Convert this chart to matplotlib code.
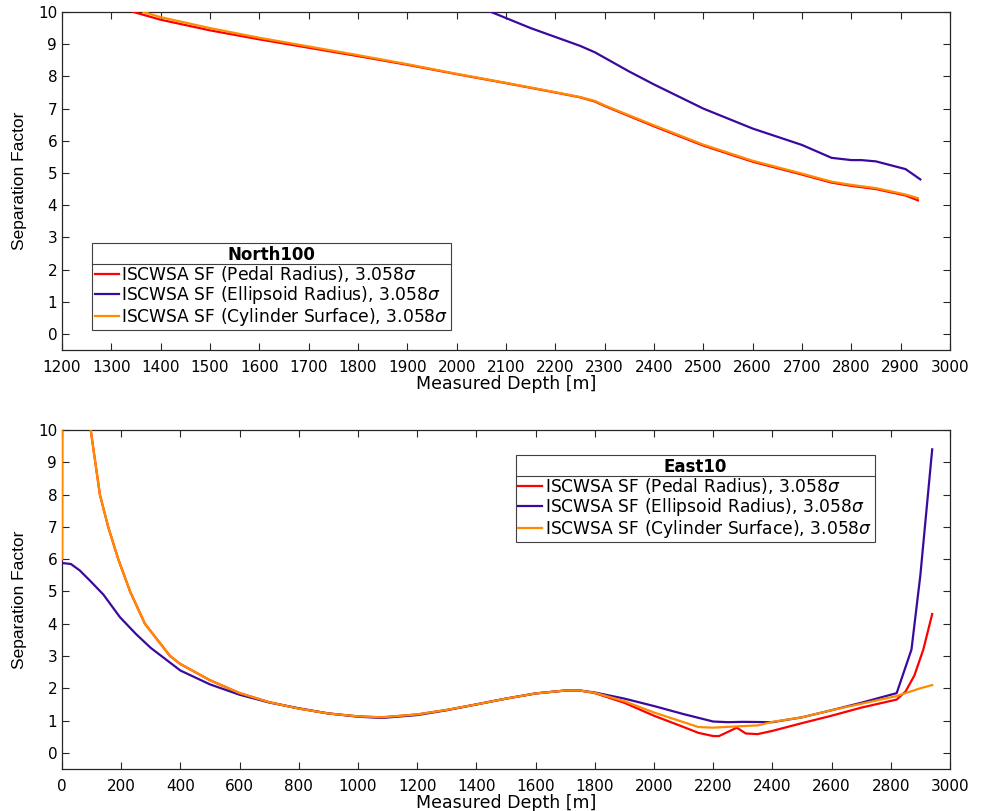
import numpy as np
import matplotlib
matplotlib.use("Agg")
import matplotlib.pyplot as plt
from matplotlib.lines import Line2D

# === Data: North100 separation factor vs measured depth ===
north_md_ped = [1345, 1400, 1500, 1600, 1700, 1800, 1900, 2000, 2100, 2200, 2250, 2280,
                2300, 2400, 2500, 2600, 2700, 2760, 2800, 2850, 2910, 2935]
north_sf_ped = [10.0, 9.76, 9.43, 9.15, 8.89, 8.63, 8.36, 8.07, 7.79, 7.50, 7.35, 7.22,
                7.08, 6.45, 5.85, 5.35, 4.95, 4.70, 4.60, 4.50, 4.30, 4.15]
north_md_ell = [2070, 2150, 2250, 2280, 2350, 2400, 2500, 2600, 2700, 2760, 2800, 2820,
                2850, 2910, 2940]
north_sf_ell = [10.0, 9.5, 8.95, 8.75, 8.15, 7.75, 7.0, 6.38, 5.87, 5.47, 5.40, 5.40,
                5.36, 5.12, 4.80]
north_md_cyl = [1365, 1400, 1500, 1600, 1700, 1800, 1900, 2000, 2100, 2200, 2250, 2280,
                2300, 2400, 2500, 2600, 2700, 2760, 2800, 2850, 2910, 2935]
north_sf_cyl = [10.0, 9.84, 9.50, 9.20, 8.93, 8.66, 8.38, 8.08, 7.80, 7.51, 7.36, 7.24,
                7.10, 6.48, 5.88, 5.38, 4.98, 4.73, 4.63, 4.53, 4.33, 4.22]

# === Data: East10 separation factor vs measured depth ===
east_md_cyl = [0, 0, 3, 30, 60, 97, 128, 156, 190, 230, 280, 365, 400, 500, 600, 700,
               800, 900, 1000, 1080, 1200, 1300, 1400, 1500, 1600, 1700, 1750, 1800,
               1900, 2000, 2100, 2150, 2200, 2280, 2350, 2400, 2500, 2600, 2700, 2800,
               2820, 2900, 2940]
east_sf_cyl = [6.0, 6.0, 40.0, 20.0, 13.5, 10.0, 8.0, 7.0, 6.0, 5.0, 4.0, 3.0, 2.75,
               2.25, 1.85, 1.57, 1.37, 1.22, 1.13, 1.10, 1.19, 1.33, 1.50, 1.68, 1.84,
               1.93, 1.93, 1.86, 1.60, 1.25, 0.95, 0.80, 0.78, 0.82, 0.85, 0.96, 1.10,
               1.32, 1.52, 1.72, 1.76, 2.00, 2.10]
east_md_ell = [0, 30, 60, 95, 140, 196, 250, 300, 400, 500, 600, 700, 800, 900, 1000,
               1080, 1200, 1300, 1400, 1500, 1600, 1700, 1750, 1800, 1900, 2000, 2100,
               2200, 2250, 2300, 2400, 2500, 2600, 2700, 2820, 2870, 2900, 2940]
east_sf_ell = [5.88, 5.85, 5.65, 5.33, 4.90, 4.20, 3.68, 3.25, 2.55, 2.12, 1.80, 1.56,
               1.38, 1.22, 1.12, 1.08, 1.17, 1.32, 1.50, 1.68, 1.84, 1.93, 1.93, 1.87,
               1.68, 1.45, 1.20, 0.97, 0.95, 0.96, 0.95, 1.10, 1.32, 1.55, 1.85, 3.20,
               5.50, 9.40]
east_md_ped = [0, 0, 3, 30, 60, 97, 128, 156, 190, 230, 280, 365, 400, 500, 600, 700,
               800, 900, 1000, 1080, 1200, 1300, 1400, 1500, 1600, 1700, 1750, 1800,
               1900, 2000, 2100, 2150, 2200, 2220, 2280, 2310, 2350, 2400, 2500, 2600,
               2700, 2820, 2850, 2880, 2910, 2940]
east_sf_ped = [6.0, 6.0, 40.0, 20.0, 13.5, 10.0, 8.0, 7.0, 6.0, 5.0, 4.0, 3.0, 2.75,
               2.25, 1.85, 1.57, 1.37, 1.22, 1.13, 1.10, 1.19, 1.33, 1.50, 1.68, 1.84,
               1.93, 1.93, 1.85, 1.55, 1.15, 0.80, 0.62, 0.52, 0.52, 0.78, 0.60, 0.58,
               0.68, 0.92, 1.15, 1.40, 1.65, 1.90, 2.40, 3.20, 4.30]

labels = [r'ISCWSA SF (Pedal Radius), 3.058$\sigma$',
          r'ISCWSA SF (Ellipsoid Radius), 3.058$\sigma$',
          r'ISCWSA SF (Cylinder Surface), 3.058$\sigma$']
colors = ['#ff0000', '#3a0a9e', '#ff8c00']

# === Style ===
plt.rcParams.update({
    'font.family': ['DejaVu Sans'],
    'font.size': 11,
    'mathtext.fontset': 'dejavusans',
    'axes.linewidth': 0.9,
    'axes.edgecolor': '#262626',
    'xtick.direction': 'in',
    'ytick.direction': 'in',
    'xtick.top': True,
    'ytick.right': True,
    'xtick.major.size': 5,
    'ytick.major.size': 5,
    'xtick.major.pad': 7,
    'xtick.color': '#262626',
    'ytick.color': '#262626',
    'xtick.labelcolor': 'black',
    'ytick.labelcolor': 'black',
})

fig = plt.figure(figsize=(9.84, 8.11), dpi=100)
ax1 = fig.add_axes([0.063, 0.5684, 0.9024, 0.4168])
ax2 = fig.add_axes([0.063, 0.0518, 0.9024, 0.418])


def draw_panel(ax, series, xlim, xticks, title, legend_anchor, legend_loc):
    for (md, sf), c, lab in zip(series, colors, labels):
        ax.plot(md, sf, color=c, linewidth=1.6, label=lab, zorder=3)
    ax.set_xlim(*xlim)
    ax.set_ylim(-0.5, 10)
    ax.set_xticks(xticks)
    ax.set_yticks(range(0, 11))
    ax.set_xlabel('Measured Depth [m]', fontsize=12.5, labelpad=0)
    ax.set_ylabel('Separation Factor', fontsize=12.5,
                  family=['Liberation Sans Narrow', 'Liberation Sans'], labelpad=8)
    leg = ax.legend(loc=legend_loc, bbox_to_anchor=legend_anchor, fontsize=12.3,
                    title=title, title_fontproperties={'weight': 'bold', 'size': 12},
                    fancybox=False, edgecolor='#404040', framealpha=1,
                    handlelength=1.4, handletextpad=0.15, borderpad=0.15,
                    labelspacing=0.0, borderaxespad=0)
    leg.get_frame().set_linewidth(0.8)
    return leg


leg1 = draw_panel(ax1, [(north_md_ped, north_sf_ped), (north_md_ell, north_sf_ell),
                        (north_md_cyl, north_sf_cyl)],
                  (1200, 3000), range(1200, 3001, 100), 'North100',
                  (0.034, 0.059), 'lower left')
leg2 = draw_panel(ax2, [(east_md_ped, east_sf_ped), (east_md_ell, east_sf_ell),
                        (east_md_cyl, east_sf_cyl)],
                  (0, 3000), range(0, 3001, 200), 'East10',
                  (0.511, 0.926), 'upper left')

# Separator line between legend title and entries
fig.canvas.draw()
renderer = fig.canvas.get_renderer()
inv = fig.transFigure.inverted()
for leg in (leg1, leg2):
    frame = leg.get_frame().get_window_extent(renderer)
    tb = leg.get_title().get_window_extent(renderer)
    first = leg.get_texts()[0].get_window_extent(renderer)
    y = 0.5 * (tb.y0 + first.y1)
    (x0, yf), (x1, _) = inv.transform([(frame.x0, y), (frame.x1, y)])
    fig.add_artist(Line2D([x0, x1], [yf, yf], color='#404040', linewidth=0.8,
                          transform=fig.transFigure, zorder=10))

plt.savefig('out.png', dpi=100, facecolor='white')
